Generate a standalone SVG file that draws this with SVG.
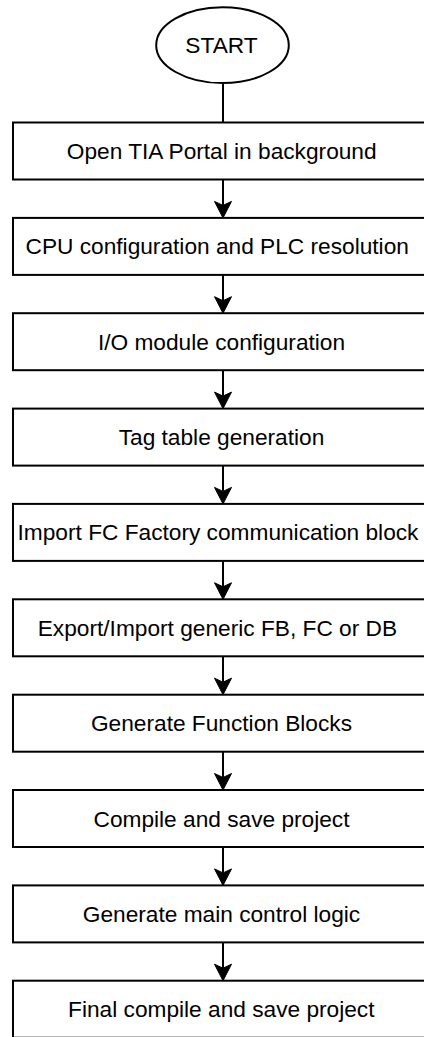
<svg xmlns="http://www.w3.org/2000/svg" width="424" height="1037" viewBox="0 0 424 1037">
  <defs>
    <style>
      .shape { fill: #ffffff; stroke: #000000; stroke-width: 2; }
      .label { font-family: "Liberation Sans", Arial, sans-serif; font-size: 22.7px; fill: #000000; text-anchor: middle; }
      .flow { fill: none; stroke: #000000; stroke-width: 2; }
      .head { fill: #000000; stroke: #000000; stroke-width: 1; stroke-linejoin: miter; }
    </style>
    <path id="arrowhead" d="M0,0 L-8.5,-16.5 L0,-12.5 L8.5,-16.5 Z"/>
  </defs>
  <rect width="424" height="1037" fill="#ffffff"/>

  <!-- connectors -->
  <g id="connectors">
    <path class="flow" d="M223,83 V122.5"/>
    <path class="flow" d="M223,179.5 V205.5"/>
    <use href="#arrowhead" class="head" x="223" y="217.9"/>
    <path class="flow" d="M223,274.9 V300.8"/>
    <use href="#arrowhead" class="head" x="223" y="313.2"/>
    <path class="flow" d="M223,370.2 V396.2"/>
    <use href="#arrowhead" class="head" x="223" y="408.6"/>
    <path class="flow" d="M223,465.6 V491.5"/>
    <use href="#arrowhead" class="head" x="223" y="503.9"/>
    <path class="flow" d="M223,560.9 V586.9"/>
    <use href="#arrowhead" class="head" x="223" y="599.3"/>
    <path class="flow" d="M223,656.3 V682.3"/>
    <use href="#arrowhead" class="head" x="223" y="694.7"/>
    <path class="flow" d="M223,751.7 V777.6"/>
    <use href="#arrowhead" class="head" x="223" y="790"/>
    <path class="flow" d="M223,847 V873"/>
    <use href="#arrowhead" class="head" x="223" y="885.4"/>
    <path class="flow" d="M223,942.4 V968.3"/>
    <use href="#arrowhead" class="head" x="223" y="980.7"/>
  </g>

  <g id="start">
    <ellipse class="shape" cx="222.5" cy="45.2" rx="66.3" ry="37.9"/>
    <text class="label" x="221.5" y="53.3">START</text>
  </g>

  <g id="step1">
    <rect class="shape" x="13" y="122.5" width="420" height="57"/>
    <text class="label" x="221.7" y="159">Open TIA Portal in background</text>
  </g>
  <g id="step2">
    <rect class="shape" x="13" y="217.9" width="420" height="57"/>
    <text class="label" x="217.2" y="254.4">CPU configuration and PLC resolution</text>
  </g>
  <g id="step3">
    <rect class="shape" x="13" y="313.2" width="420" height="57"/>
    <text class="label" x="221.5" y="349.7">I/O module configuration</text>
  </g>
  <g id="step4">
    <rect class="shape" x="13" y="408.6" width="420" height="57"/>
    <text class="label" x="221.5" y="445.1">Tag table generation</text>
  </g>
  <g id="step5">
    <rect class="shape" x="13" y="503.9" width="420" height="57"/>
    <text class="label" x="218" y="540.4">Import FC Factory communication block</text>
  </g>
  <g id="step6">
    <rect class="shape" x="13" y="599.3" width="420" height="57"/>
    <text class="label" x="217.4" y="635.8">Export/Import generic FB, FC or DB</text>
  </g>
  <g id="step7">
    <rect class="shape" x="13" y="694.7" width="420" height="57"/>
    <text class="label" x="221.5" y="731.2">Generate Function Blocks</text>
  </g>
  <g id="step8">
    <rect class="shape" x="13" y="790" width="420" height="57"/>
    <text class="label" x="221.5" y="826.5">Compile and save project</text>
  </g>
  <g id="step9">
    <rect class="shape" x="13" y="885.4" width="420" height="57"/>
    <text class="label" x="221.5" y="921.9">Generate main control logic</text>
  </g>
  <g id="step10">
    <rect class="shape" x="13" y="980.7" width="420" height="57"/>
    <text class="label" x="221.3" y="1017.2">Final compile and save project</text>
  </g>
</svg>
